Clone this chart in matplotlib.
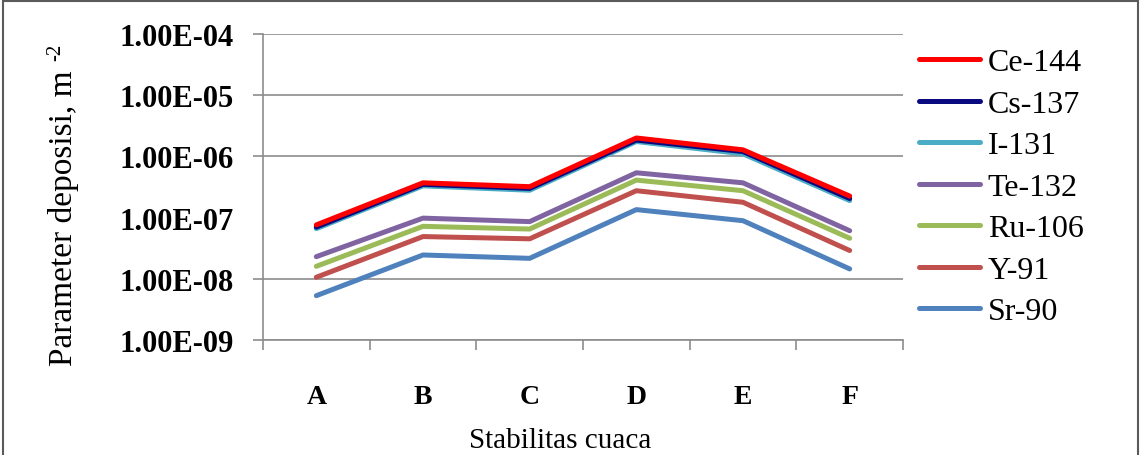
import matplotlib.pyplot as plt
from matplotlib.patches import Rectangle
from matplotlib.ticker import FixedLocator

plt.rcParams['font.family'] = ['Liberation Serif', 'DejaVu Serif']
plt.rcParams['mathtext.fontset'] = 'stix'

stability = ['A', 'B', 'C', 'D', 'E', 'F']
ce144 = [7.6e-8, 3.7e-7, 3.2e-7, 2.0e-6, 1.28e-6, 2.25e-7]
cs137 = [7.0e-8, 3.5e-7, 3.0e-7, 1.85e-6, 1.2e-6, 2.05e-7]
i131 = [6.6e-8, 3.3e-7, 2.8e-7, 1.75e-6, 1.1e-6, 1.9e-7]
te132 = [2.3e-8, 9.8e-8, 8.6e-8, 5.4e-7, 3.7e-7, 6.1e-8]
ru106 = [1.6e-8, 7.2e-8, 6.5e-8, 4.1e-7, 2.75e-7, 4.6e-8]
y91 = [1.06e-8, 4.9e-8, 4.5e-8, 2.75e-7, 1.78e-7, 2.9e-8]
sr90 = [5.3e-9, 2.45e-8, 2.16e-8, 1.35e-7, 8.9e-8, 1.45e-8]

series = [
    ('Ce-144', ce144, '#FF0000'),
    ('Cs-137', cs137, '#0A0A80'),
    ('I-131', i131, '#4BACC6'),
    ('Te-132', te132, '#8064A2'),
    ('Ru-106', ru106, '#9BBB59'),
    ('Y-91', y91, '#C0504D'),
    ('Sr-90', sr90, '#4F81BD'),
]

W, H = 1144, 456
fig = plt.figure(figsize=(W / 100, H / 100), dpi=100)
ax = fig.add_axes([263 / W, 1 - 341 / H, 640 / W, 306 / H])

x = list(range(len(stability)))
n = len(series)
for i, (name, vals, col) in enumerate(series):
    ax.plot(x, vals, color=col, lw=3.6, label=name, zorder=10 + n - i,
            solid_capstyle='round', solid_joinstyle='round')

ax.set_yscale('log')
ax.set_ylim(1e-9, 1e-4)
ax.set_xlim(-0.5, 5.5)
yt = [1e-9, 1e-8, 1e-7, 1e-6, 1e-5, 1e-4]
ax.set_yticks(yt)
ax.set_yticklabels(['1.00E-09', '1.00E-08', '1.00E-07', '1.00E-06', '1.00E-05', '1.00E-04'],
                   fontsize=22, fontweight='bold')
ax.yaxis.set_minor_locator(FixedLocator([]))
ax.set_xticks(x)
ax.set_xticklabels(stability, fontsize=20, fontweight='bold')
ax.set_xticks([v - 0.5 for v in range(len(stability) + 1)], minor=True)

grey = '#8C8C8C'
ax.grid(axis='y', color=grey, lw=1.2)
ax.set_axisbelow(True)
for s in ['top', 'right']:
    ax.spines[s].set_visible(False)
for s in ['left', 'bottom']:
    ax.spines[s].set_color(grey)
    ax.spines[s].set_linewidth(1.2)
ax.tick_params(axis='y', which='major', length=7.2, width=1.2, color=grey, pad=14)
ax.tick_params(axis='x', which='major', length=0, pad=32)
ax.tick_params(axis='x', which='minor', length=7.2, width=1.2, color=grey)

# the 1.00E-07 gridline and tick are not drawn in the reference
t7 = ax.yaxis.get_major_ticks()[2]
t7.gridline.set_visible(False)
t7.tick1line.set_visible(False)

fig.text(64 / W, 1 - 218 / H, 'Parameter deposisi, m', rotation=90,
         fontsize=24, ha='center', va='center')
fig.text(56 / W, 1 - 52 / H, '-2', rotation=90, fontsize=15, ha='center', va='center')
fig.text(560 / W, 1 - 441 / H, 'Stabilitas cuaca', fontsize=21, ha='center', va='center')

ax.legend(loc='upper left', bbox_to_anchor=(919 / W, 1 - 49 / H),
          bbox_transform=fig.transFigure, frameon=False, fontsize=23,
          handlelength=1.9, handletextpad=0.25, labelspacing=0.38,
          borderaxespad=0, borderpad=0)

fig.patches.append(Rectangle((3 / W, -0.02), 1135 / W, 1.0 + 0.02 - 1.5 / H,
                             transform=fig.transFigure, fill=False,
                             edgecolor='#5A5A5A', lw=1.5))

fig.savefig('out.png', dpi=100)
